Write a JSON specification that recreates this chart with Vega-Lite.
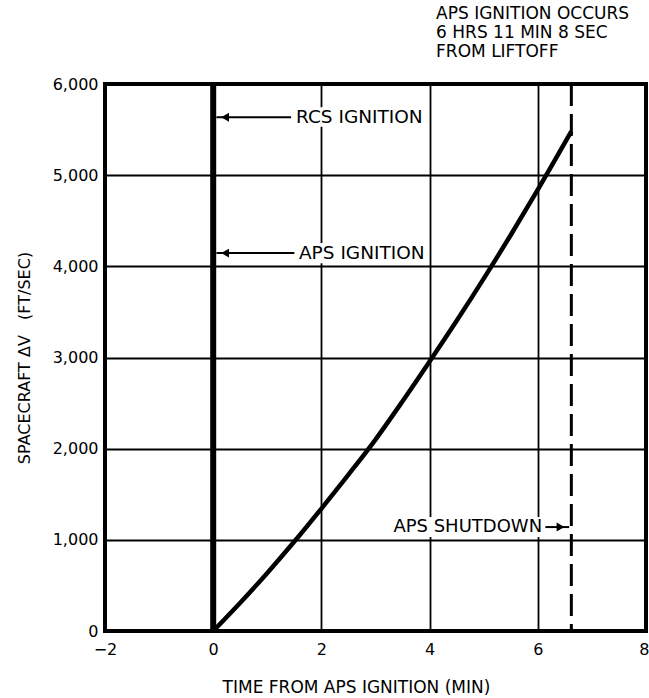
{
  "$schema": "https://vega.github.io/schema/vega-lite/v6.json",
  "width": 541,
  "height": 547,
  "autosize": {"type": "none"},
  "padding": {"left": 105, "top": 84, "right": 3, "bottom": 67},
  "background": "white",
  "config": {
    "view": {"stroke": "black", "strokeWidth": 4},
    "font": "DejaVu Sans",
    "axis": {
      "grid": true,
      "gridColor": "black",
      "gridWidth": 1.8,
      "gridOpacity": 1,
      "domain": false,
      "ticks": false,
      "labelColor": "black",
      "titleColor": "black",
      "labelFont": "DejaVu Sans",
      "titleFont": "DejaVu Sans",
      "labelFontSize": 16,
      "titleFontSize": 17,
      "titleFontWeight": "normal"
    }
  },
  "datasets": {
    "curve": [
      {"x": 0, "y": 0},
      {"x": 0.5, "y": 310},
      {"x": 1.0, "y": 637},
      {"x": 1.5, "y": 981},
      {"x": 2.0, "y": 1343},
      {"x": 2.5, "y": 1715},
      {"x": 3.0, "y": 2100},
      {"x": 3.5, "y": 2520},
      {"x": 4.0, "y": 2956},
      {"x": 4.5, "y": 3402},
      {"x": 5.0, "y": 3865},
      {"x": 5.5, "y": 4344},
      {"x": 6.0, "y": 4841},
      {"x": 6.62, "y": 5480}
    ],
    "boxes": [
      {"x": 1.49, "x2": 3.95, "y": 5530, "y2": 5745},
      {"x": 1.55, "x2": 3.95, "y": 4035, "y2": 4255},
      {"x": 3.2, "x2": 6.07, "y": 1030, "y2": 1250}
    ],
    "vlines": [
      {"x": 0, "kind": "ignition"},
      {"x": 6.62, "kind": "shutdown"}
    ],
    "arrows": [
      {"x": 0.06, "x2": 1.44, "y": 5636},
      {"x": 0.06, "x2": 1.5, "y": 4145},
      {"x": 6.14, "x2": 6.58, "y": 1140}
    ],
    "heads": [
      {"x": 0.22, "y": 5636, "shape": "triangle-left"},
      {"x": 0.22, "y": 4145, "shape": "triangle-left"},
      {"x": 6.42, "y": 1140, "shape": "triangle-right"}
    ],
    "leftlabels": [
      {"x": 1.53, "y": 5636, "label": "RCS IGNITION"},
      {"x": 1.585, "y": 4145, "label": "APS IGNITION"}
    ],
    "rightlabels": [
      {"x": 6.08, "y": 1140, "label": "APS SHUTDOWN"}
    ],
    "note": [
      {"x": 4.12, "y": 6765, "label": "APS IGNITION OCCURS"},
      {"x": 4.12, "y": 6557, "label": "6 HRS 11 MIN 8 SEC"},
      {"x": 4.12, "y": 6349, "label": "FROM LIFTOFF"}
    ]
  },
  "layer": [
    {
      "data": {"name": "boxes"},
      "mark": {"type": "rect", "color": "white"},
      "encoding": {
        "x": {
          "field": "x",
          "type": "quantitative",
          "scale": {"domain": [-2, 8], "nice": false, "zero": false},
          "axis": {
            "values": [-2, 0, 2, 4, 6, 8],
            "title": "TIME FROM APS IGNITION (MIN)",
            "labelPadding": 10,
            "labelFlush": false,
            "labelAlign": {"expr": "datum.value === 8 ? 'right' : 'center'"},
            "labelOffset": {"expr": "datum.value === 8 ? 3 : 0"},
            "titleX": 251,
            "titleY": 61,
            "titleAlign": "center",
            "titleBaseline": "alphabetic"
          }
        },
        "x2": {"field": "x2"},
        "y": {
          "field": "y",
          "type": "quantitative",
          "scale": {"domain": [0, 6000], "nice": false},
          "axis": {
            "values": [0, 1000, 2000, 3000, 4000, 5000, 6000],
            "format": ",.0f",
            "title": "SPACECRAFT ΔV\u00a0\u00a0 (FT/SEC)",
            "titleFontSize": 16,
            "labelPadding": 7,
            "labelFlush": false,
            "titleAngle": -90,
            "titleX": -76,
            "titleAlign": "center",
            "titleBaseline": "alphabetic"
          }
        },
        "y2": {"field": "y2"}
      }
    },
    {
      "data": {"name": "vlines"},
      "transform": [{"filter": "datum.kind === 'ignition'"}],
      "mark": {"type": "rule", "color": "black", "strokeWidth": 6},
      "encoding": {
        "x": {"field": "x", "type": "quantitative"}
      }
    },
    {
      "data": {"name": "vlines"},
      "transform": [{"filter": "datum.kind === 'shutdown'"}],
      "mark": {"type": "rule", "color": "black", "strokeWidth": 3, "strokeDash": [22, 8]},
      "encoding": {
        "x": {"field": "x", "type": "quantitative"}
      }
    },
    {
      "data": {"name": "curve"},
      "mark": {"type": "line", "color": "black", "strokeWidth": 4.5, "interpolate": "monotone"},
      "encoding": {
        "x": {"field": "x", "type": "quantitative"},
        "y": {"field": "y", "type": "quantitative"}
      }
    },
    {
      "data": {"name": "arrows"},
      "mark": {"type": "rule", "color": "black", "strokeWidth": 2},
      "encoding": {
        "x": {"field": "x", "type": "quantitative"},
        "x2": {"field": "x2"},
        "y": {"field": "y", "type": "quantitative"}
      }
    },
    {
      "data": {"name": "heads"},
      "mark": {"type": "point", "filled": true, "color": "black", "opacity": 1, "size": 80},
      "encoding": {
        "x": {"field": "x", "type": "quantitative"},
        "y": {"field": "y", "type": "quantitative"},
        "shape": {"field": "shape", "type": "nominal", "scale": null}
      }
    },
    {
      "data": {"name": "leftlabels"},
      "mark": {"type": "text", "align": "left", "baseline": "middle", "fontSize": 18.5, "color": "black"},
      "encoding": {
        "x": {"field": "x", "type": "quantitative"},
        "y": {"field": "y", "type": "quantitative"},
        "text": {"field": "label"}
      }
    },
    {
      "data": {"name": "rightlabels"},
      "mark": {"type": "text", "align": "right", "baseline": "middle", "fontSize": 18, "color": "black"},
      "encoding": {
        "x": {"field": "x", "type": "quantitative"},
        "y": {"field": "y", "type": "quantitative"},
        "text": {"field": "label"}
      }
    },
    {
      "data": {"name": "note"},
      "mark": {"type": "text", "align": "left", "baseline": "middle", "fontSize": 17, "color": "black"},
      "encoding": {
        "x": {"field": "x", "type": "quantitative"},
        "y": {"field": "y", "type": "quantitative"},
        "text": {"field": "label"}
      }
    }
  ]
}
